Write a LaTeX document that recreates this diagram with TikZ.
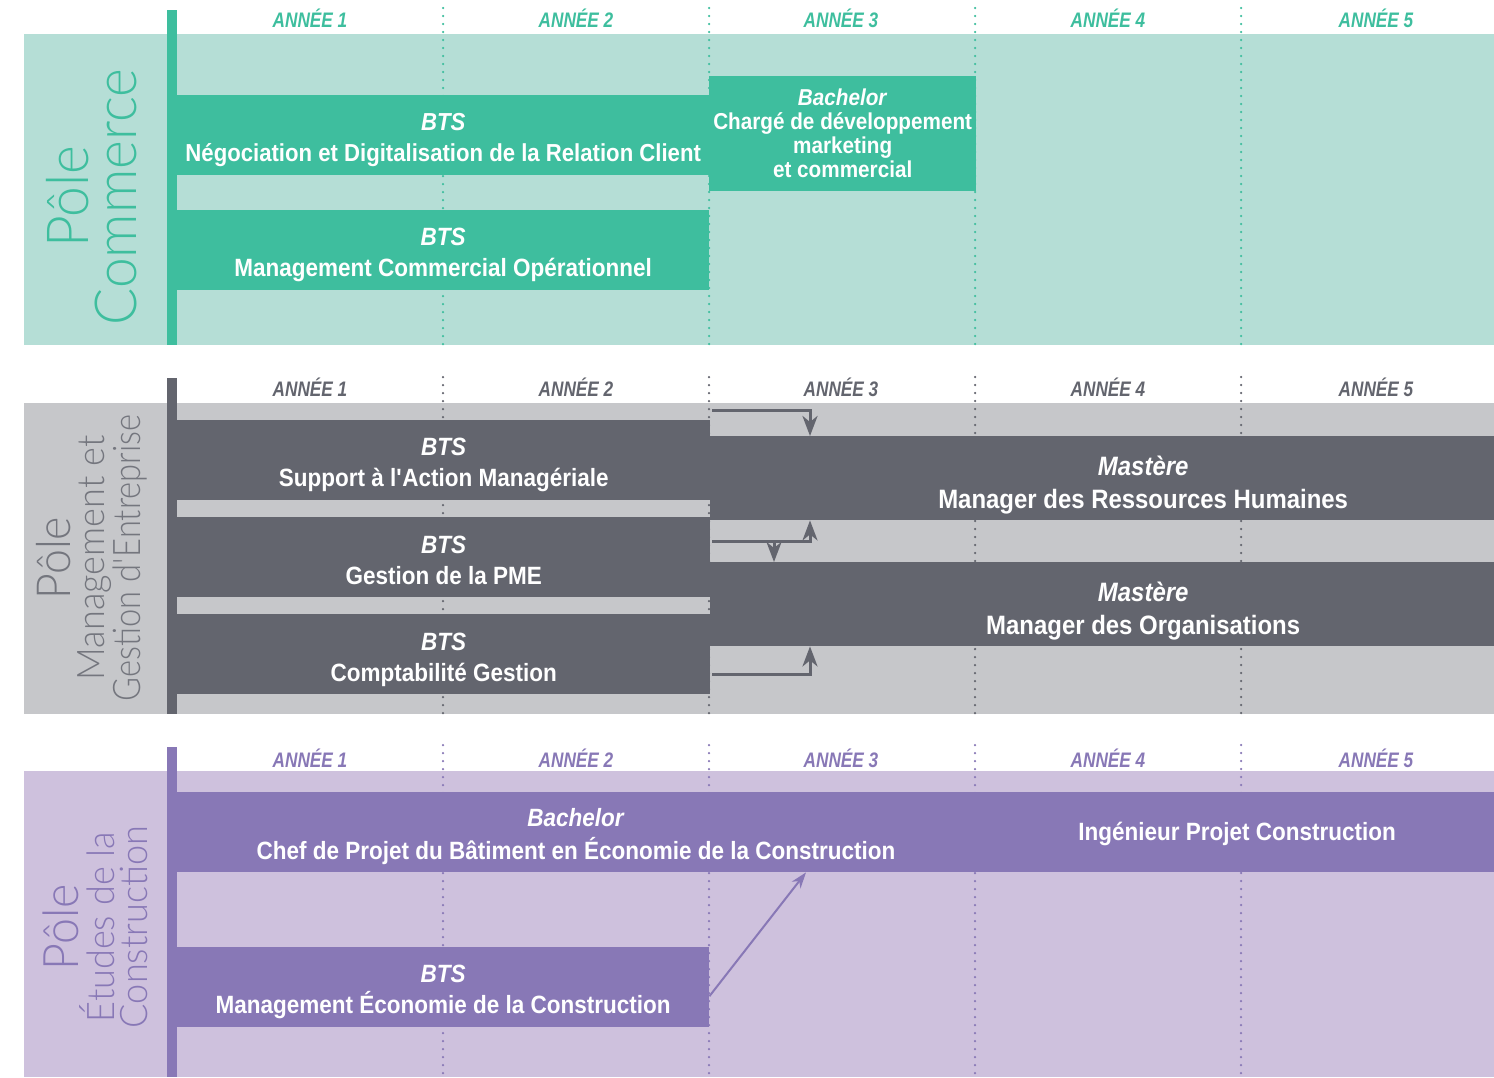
\documentclass[tikz,border=0pt]{standalone}
\usepackage{fontspec}
\setmainfont{Liberation Sans}[FakeStretch=0.9]
\newfontfamily\anneefont{Liberation Sans}[FakeStretch=0.82]
\newfontfamily\polefont{Lato Light}[FakeStretch=0.95]
\newfontfamily\polefontn{Lato Light}[FakeStretch=0.86]
\usetikzlibrary{positioning}
\usetikzlibrary{arrows.meta}

\definecolor{comdark}{HTML}{3EBE9E}
\definecolor{comlight}{HTML}{B5DED6}
\definecolor{mgtdark}{HTML}{63656E}
\definecolor{mgtlight}{HTML}{C6C7CA}
\definecolor{mgttext}{HTML}{74767E}
\definecolor{condark}{HTML}{8878B6}
\definecolor{conlight}{HTML}{CEC1DD}

% raises the first line of a box text
\newcommand{\progstrut}[1][28pt]{\rule{0pt}{#1}}

\tikzset{
  prog/.style={anchor=north west, inner sep=0pt, text=white, align=center,
    font=\bfseries\fontsize{25}{31}\selectfont},
  annee/.style={anchor=base, font=\anneefont\bfseries\itshape\fontsize{21}{21}\selectfont},
  yearsep/.style={line width=2.5pt, line cap=round, dash pattern=on 0pt off 8pt},
  pole/.style={rotate=90, align=center, inner sep=0pt,
    font=\polefont\fontsize{38}{34}\selectfont},
  flow/.style={line width=3pt, mgtdark, -{Stealth[length=20pt, width=15pt, inset=6pt]}},
  flowcon/.style={line width=2pt, condark, -{Stealth[length=16pt, width=11pt, inset=5pt]}}
}

\begin{document}
\begin{tikzpicture}[x=1pt, y=-1pt]
\useasboundingbox (0,0) rectangle (1494,1077);
\clip (0,0) rectangle (1494,1077);

%\draw[gray,very thin,step=100] (0,0) grid (1494,1077);

% Pole Commerce
\begin{scope}
\fill[comlight] (24,34) rectangle (1494,345);
\foreach \x in {443,709,975,1241}
  \draw[yearsep, comdark] (\x,8) -- (\x,345);
\foreach \n/\x in {1/310,2/576,3/841,4/1108,5/1376}
  \node[annee, text=comdark] (com-an\n) at (\x,27) {ANNÉE \n};

\node[prog, fill=comdark, minimum width=532, minimum height=80,
  font=\bfseries\fontsize{24.6}{31}\selectfont] (ndrc) at (177,95)
  {\progstrut[27pt]\textit{BTS}\\Négociation et Digitalisation de la Relation Client};
\node[prog, fill=comdark, minimum width=532, minimum height=80] (mco) at (177,210)
  {\progstrut[27pt]\textit{BTS}\\Management Commercial Opérationnel};
\node[prog, fill=comdark, minimum width=267, minimum height=115,
  font=\bfseries\fontsize{23}{24}\selectfont] (cdmc) at (709,76)
  {\textit{Bachelor}\\Chargé de développement\\marketing\\et commercial};

\fill[comdark] (167,10) rectangle (177,345);
\node[pole, text=comdark, font=\polefont\fontsize{58}{48}\selectfont] (com-pole) at (92,197)
  {Pôle\\Commerce};
\end{scope}

% Pole Management
\begin{scope}
\fill[mgtlight] (24,403) rectangle (1494,714);
\foreach \x in {443,709,975,1241}
  \draw[yearsep, mgtdark] (\x,377) -- (\x,714);
\foreach \n/\x in {1/310,2/576,3/841,4/1108,5/1376}
  \node[annee, text=mgtdark] (mgt-an\n) at (\x,396) {ANNÉE \n};

\node[prog, fill=mgtdark, minimum width=533, minimum height=80] (sam) at (177,420)
  {\progstrut[27pt]\textit{BTS}\\Support à l\textquotesingle Action Managériale};
\node[prog, fill=mgtdark, minimum width=533, minimum height=80] (pme) at (177,517)
  {\progstrut[23pt]\textit{BTS}\\Gestion de la PME};
\node[prog, fill=mgtdark, minimum width=533, minimum height=80] (cg) at (177,614)
  {\progstrut[29pt]\textit{BTS}\\Comptabilité Gestion};
\node[prog, fill=mgtdark, minimum width=866, minimum height=84,
  font=\bfseries\fontsize{26.6}{33}\selectfont] (mrh) at (710,436)
  {\progstrut[34pt]\textit{Mastère}\\Manager des Ressources Humaines};
\node[prog, fill=mgtdark, minimum width=866, minimum height=84,
  font=\bfseries\fontsize{26.6}{33}\selectfont] (mor) at (710,562)
  {\progstrut[34pt]\textit{Mastère}\\Manager des Organisations};

\fill[mgtdark] (167,378) rectangle (177,714);
\node[pole, text=mgttext] (mgt-pole) at (92,558)
  {{\fontsize{47}{34}\selectfont Pôle}\\Management et\\{\polefontn Gestion d\textquotesingle Entreprise}};

\coordinate (sam-out) at (712,410);
\coordinate (pme-out) at (712,541);
\coordinate (pme-split) at (774,541);
\coordinate (cg-out) at (712,674);
\draw[flow] (sam-out) -| ([xshift=100pt]mrh.north west);
\draw[flow] (pme-out) -| ([xshift=100pt]mrh.south west);
\draw[flow] (pme-split) -- (pme-split |- mor.north);
\draw[flow] (cg-out) -| ([xshift=100pt]mor.south west);
\end{scope}

% Pole Construction
\begin{scope}
\fill[conlight] (24,771) rectangle (1494,1077);
\foreach \x in {443,709,975,1241}
  \draw[yearsep, condark] (\x,745) -- (\x,1077);
\foreach \n/\x in {1/310,2/576,3/841,4/1108,5/1376}
  \node[annee, text=condark] (con-an\n) at (\x,767) {ANNÉE \n};

\node[prog, fill=condark, minimum width=1317, minimum height=80] (cpbec) at (177,792) {};
\node[prog, anchor=center, font=\bfseries\fontsize{25}{33}\selectfont] (cpbec-txt) at (576,837)
  {\textit{Bachelor}\\Chef de Projet du Bâtiment en Économie de la Construction};
\node[prog, anchor=center] (ipc) at (1237,834) {Ingénieur Projet Construction};
\node[prog, fill=condark, minimum width=532, minimum height=80] (mec) at (177,947)
  {\progstrut[27pt]\textit{BTS}\\Management Économie de la Construction};

\fill[condark] (167,747) rectangle (177,1077);
\node[pole, text=condark, font=\polefont\fontsize{38}{33}\selectfont] (con-pole) at (95,927)
  {{\fontsize{49}{33}\selectfont Pôle}\\Études de la\\Construction};

\draw[flowcon] ([yshift=-9pt]mec.east) -- ([xshift=629pt]cpbec.south west);
\end{scope}

\end{tikzpicture}
\end{document}
